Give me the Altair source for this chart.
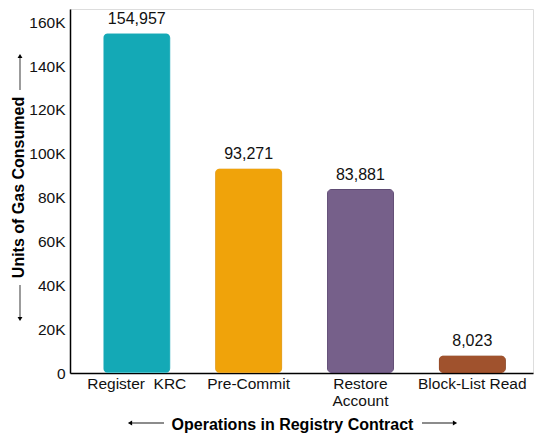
import altair as alt
import pandas as pd

operations = ["Register\u00a0 KRC", "Pre-Commit", "Restore Account", "Block-List Read"]
gas = [154957, 93271, 83881, 8023]
fills = ["#14a9b6", "#f0a30a", "#76608a", "#a0522d"]
strokes = ["#7fd0d8", "#d9a04a", "#4f3d63", "#7a3a1c"]
y_ticks = [0, 20000, 40000, 60000, 80000, 100000, 120000, 140000, 160000]

df = pd.DataFrame({"op": operations, "gas": gas, "fill": fills, "stroke": strokes})

W, H = 463, 364
FONT = "Liberation Sans"

x_enc = alt.X(
    "op:N",
    sort=operations,
    scale=alt.Scale(paddingInner=0.4, paddingOuter=0.27, align=0.55),
    axis=alt.Axis(
        title="Operations in Registry Contract",
        titleFont=FONT, titleFontSize=16, titleFontWeight="bold", titleColor="#000",
        titlePadding=8, titleX=222,
        labelFont=FONT, labelFontSize=15.5, labelColor="#111", labelAngle=0,
        labelPadding=3, ticks=False, domainColor="#000", domainWidth=1.5,
        labelExpr="datum.value == 'Restore Account' ? ['Restore', 'Account'] : datum.value",
        labelLineHeight=17,
    ),
)
y_enc = alt.Y(
    "gas:Q",
    scale=alt.Scale(domain=[0, 166000], nice=False),
    axis=alt.Axis(
        title="Units of Gas Consumed",
        titleFont=FONT, titleFontSize=16, titleFontWeight="bold", titleColor="#000",
        titlePadding=2, titleY=178,
        values=y_ticks,
        labelExpr="datum.value == 0 ? '0' : format(datum.value / 1000, 'd') + 'K'",
        labelFont=FONT, labelFontSize=15.5, labelColor="#111",
        labelPadding=5, ticks=False, grid=False, domainColor="#000", domainWidth=1.5,
    ),
)

base = alt.Chart(df)
bars = base.mark_bar(cornerRadius=5, strokeWidth=1).encode(
    x=x_enc,
    y=y_enc,
    color=alt.Color("fill:N", scale=None),
    stroke=alt.Stroke("stroke:N", scale=None),
)
labels = base.mark_text(dy=-9, baseline="alphabetic", font=FONT, fontSize=16, color="#111").encode(
    x=alt.X("op:N", sort=operations),
    y="gas:Q",
    text=alt.Text("gas:Q", format=","),
)

one = pd.DataFrame({"k": [0]})


def head(shape, x, y, size=45):
    return alt.Chart(one).mark_point(shape=shape, filled=True, color="#000", size=size, opacity=1, strokeWidth=0).encode(
        x=alt.value(x), y=alt.value(y)
    )


def seg(x1, y1, x2, y2):
    return alt.Chart(one).mark_rule(color="#666", strokeWidth=1.3).encode(
        x=alt.value(x1), y=alt.value(y1), x2=alt.value(x2), y2=alt.value(y2)
    )


decor = [
    # x title arrows
    seg(60, 414, 94, 414), head("triangle-left", 60, 414, 24),
    seg(352, 414, 385, 414), head("triangle-right", 385, 414, 24),
    # y title arrows
    seg(-50, 47, -50, 81), head("triangle-up", -50, 47, 24),
    seg(-50, 276, -50, 310), head("triangle-down", -50, 310, 24),
]

chart = alt.layer(bars, labels, *decor).properties(
    width=W, height=H,
    autosize=alt.AutoSizeParams(type="none"),
    padding={"left": 70, "top": 9, "right": 2, "bottom": 60},
).configure_view(stroke=None).configure(background="white")

chart.save("out.html", embed_options={"renderer": "svg", "actions": False})
